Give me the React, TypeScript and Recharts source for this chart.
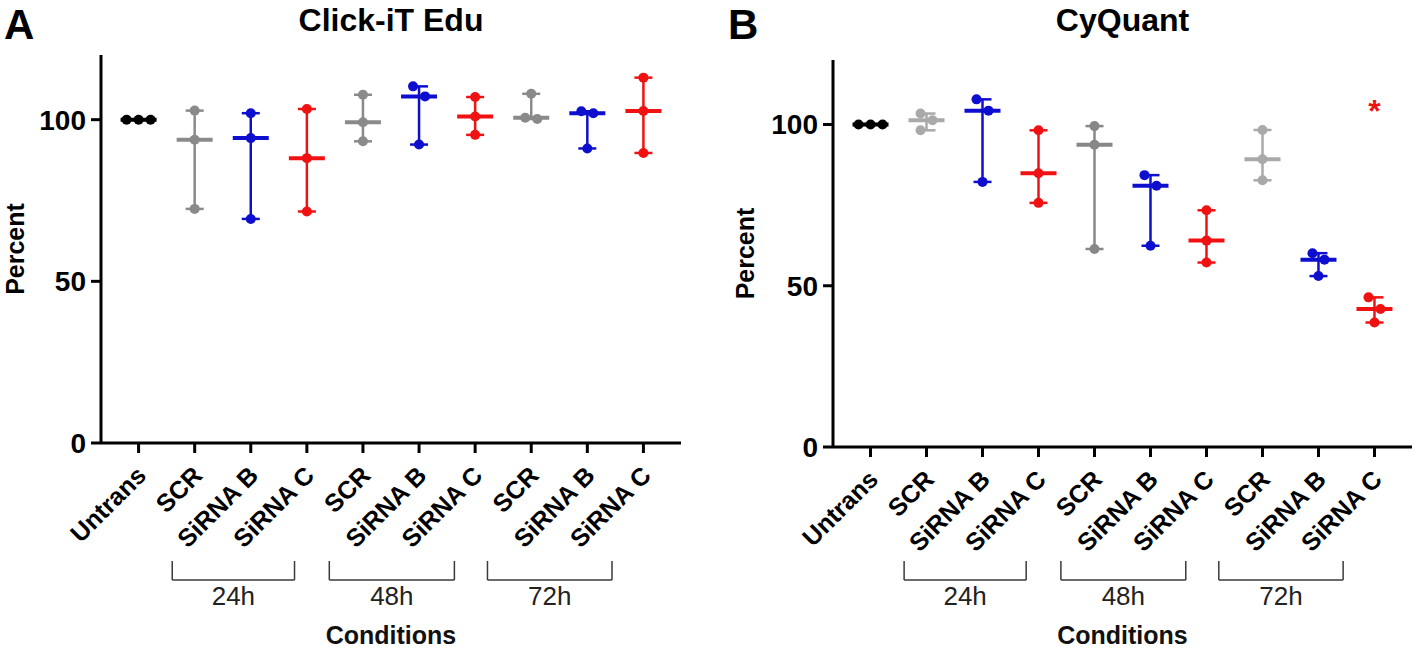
import React from "react";
import { ComposedChart, Scatter, ErrorBar, XAxis, YAxis, ReferenceLine } from "recharts";

const FONT = "'Liberation Sans', Arial, Helvetica, sans-serif";

const conditions = ["Untrans", "SCR", "SiRNA B", "SiRNA C", "SCR", "SiRNA B", "SiRNA C", "SCR", "SiRNA B", "SiRNA C"];
const xTicks = conditions.map((_, i) => i);
const yTicks = [0, 50, 100];

// Click-iT Edu, three replicates per condition (percent)
const eduUntrans = [100, 100, 100];
const eduScr24 = [102.8, 93.8, 72.4];
const eduB24 = [102, 94.3, 69.3];
const eduC24 = [103.3, 88.1, 71.6];
const eduScr48 = [107.7, 99.2, 93.3];
const eduB48 = [110.3, 107.2, 92.3];
const eduC48 = [107, 101, 95.3];
const eduScr72 = [108, 100.6, 100.2];
const eduB72 = [102.6, 102, 91.1];
const eduC72 = [113, 102.7, 89.7];

// CyQuant, three replicates per condition (percent)
const cyUntrans = [100, 100, 100];
const cyScr24 = [103.4, 101.3, 98.2];
const cyB24 = [107.8, 104.3, 82.2];
const cyC24 = [98.2, 84.9, 75.7];
const cyScr48 = [99.5, 93.7, 61.4];
const cyB48 = [84.3, 81, 62.4];
const cyC48 = [73.4, 64, 57.2];
const cyScr72 = [98.3, 89.2, 82.7];
const cyB72 = [60.1, 58.1, 53];
const cyC72 = [46.4, 42.8, 38.6];

// significance mark: condition index and height
const cySig = [{ x: 9, y: 106.5 }];

// time-point brackets under the labels (in condition-index units)
const brackets = [
  { label: "24h", from: 0.6, to: 2.78 },
  { label: "48h", from: 3.4, to: 5.63 },
  { label: "72h", from: 6.22, to: 8.44 },
];

const BLACK = "#000000";
const GRAY = "#8a8a8a";
const LIGHT = "#a9a9a9";
const BLUE = "#0e0ecf";
const RED = "#f01212";

const eduColors = [BLACK, GRAY, BLUE, RED, GRAY, BLUE, RED, GRAY, BLUE, RED];
const cyColors = [BLACK, LIGHT, BLUE, RED, "#878787", BLUE, RED, LIGHT, BLUE, RED];

const X_DOMAIN: [number, number] = [-0.67, 9.67];
const H = 654;

// horizontal jitter so overlapping dots sit side by side (slot units)
function swarm(vals: number[], pxY: number, gap: number) {
  const order = vals.map((_, i) => i).sort((a, b) => vals[b] - vals[a]);
  const slot = vals.map(() => 0);
  const placed: number[] = [];
  for (const i of order) {
    for (const k of [0, 1, -1, 2, -2]) {
      const ok = placed.every((j) => Math.abs(vals[j] - vals[i]) * pxY >= gap || slot[j] !== k);
      if (ok) {
        slot[i] = k;
        break;
      }
    }
    placed.push(i);
  }
  // center each cluster of touching dots
  const cluster = vals.map((_, i) => i);
  const find = (i: number): number => (cluster[i] === i ? i : find(cluster[i]));
  vals.forEach((a, i) =>
    vals.forEach((b, j) => {
      if (j > i && Math.abs(a - b) * pxY < gap) cluster[find(j)] = find(i);
    })
  );
  return vals.map((_, i) => {
    const mates = vals.map((_, j) => j).filter((j) => find(j) === find(i));
    const s = mates.map((j) => slot[j]);
    return slot[i] - (Math.max(...s) + Math.min(...s)) / 2;
  });
}

const median = (v: number[]) => [...v].sort((a, b) => a - b)[1];

const XTick = (props: any) => {
  const { x, y, payload } = props;
  const ax = x + 9;
  const ay = y + 22;
  return (
    <text
      x={ax}
      y={ay}
      transform={`rotate(-45 ${ax} ${ay})`}
      textAnchor="end"
      fontFamily={FONT}
      fontWeight={700}
      fontSize={25}
      fill="#000"
    >
      {conditions[payload.value]}
    </text>
  );
};

// rotated axis title; bx is where the text baseline sits
const YLabel = (props: any) => {
  const { viewBox, bx } = props;
  const cy = viewBox.y + viewBox.height / 2;
  return (
    <text
      x={bx}
      y={cy}
      transform={`rotate(-90 ${bx} ${cy})`}
      textAnchor="middle"
      fontFamily={FONT}
      fontWeight={700}
      fontSize={25}
      fill="#000"
    >
      Percent
    </text>
  );
};

type PanelProps = {
  letter: string;
  title: string;
  groups: number[][];
  colors: string[];
  sig?: { x: number; y: number }[];
  left: number;
  width: number;
  plotLeft: number;
  plotRight: number;
  plotTop: number;
  plotBottom: number;
  letterX: number;
  yLabelX: number;
};

function Panel(p: PanelProps) {
  const plotW = p.plotRight - p.plotLeft;
  const plotH = p.plotBottom - p.plotTop;
  const pxX = plotW / (X_DOMAIN[1] - X_DOMAIN[0]);
  const pxY = plotH / 120;
  const yAt = (absY: number) => (p.plotBottom - absY) / pxY;
  const yTop = yAt(561);
  const yBot = yAt(580);
  const lineStyle = { stroke: "#3a3a3a", strokeWidth: 1.5 };

  return (
    <div style={{ position: "absolute", left: p.left, top: 0, width: p.width, height: H }}>
      <svg width={p.width} height={H} style={{ position: "absolute", left: 0, top: 0 }}>
        <text x={p.letterX} y={39} fontFamily={FONT} fontWeight={700} fontSize={42} fill="#000">
          {p.letter}
        </text>
        <text
          x={p.plotLeft - p.left + plotW / 2}
          y={31}
          textAnchor="middle"
          fontFamily={FONT}
          fontWeight={700}
          fontSize={32}
          fill="#000"
        >
          {p.title}
        </text>
      </svg>
      <div style={{ position: "absolute", left: 0, top: 0 }}>
        <ComposedChart
          width={p.width}
          height={H}
          margin={{ top: p.plotTop, right: p.width - (p.plotRight - p.left), bottom: 0, left: 0 }}
        >
          <XAxis
            type="number"
            dataKey="x"
            domain={X_DOMAIN}
            allowDataOverflow
            ticks={xTicks}
            interval={0}
            tick={<XTick />}
            tickSize={10}
            tickMargin={2}
            tickLine={{ stroke: "#000", strokeWidth: 3 }}
            axisLine={{ stroke: "#000", strokeWidth: 3 }}
            height={H - p.plotBottom}
            label={{
              value: "Conditions",
              position: "insideBottom",
              offset: 10,
              fill: "#111",
              fontSize: 25,
              fontWeight: 700,
              fontFamily: FONT,
            }}
          />
          <YAxis
            type="number"
            dataKey="y"
            domain={[0, 120]}
            allowDataOverflow
            ticks={yTicks}
            interval={0}
            width={p.plotLeft - p.left}
            tickSize={10}
            tickMargin={5}
            tickLine={{ stroke: "#000", strokeWidth: 3 }}
            axisLine={{ stroke: "#000", strokeWidth: 3 }}
            tick={{ fill: "#000", fontSize: 28, fontWeight: 700, fontFamily: FONT }}
            label={<YLabel bx={p.yLabelX} />}
          />
          {brackets.map((b) => (
            <ReferenceLine
              key={b.label}
              segment={[
                { x: b.from, y: yBot },
                { x: b.to, y: yBot },
              ]}
              {...lineStyle}
              ifOverflow="visible"
              label={{ value: b.label, position: "bottom", offset: 7, fill: "#222", fontSize: 26, fontFamily: FONT }}
            />
          ))}
          {brackets.map((b) => (
            <ReferenceLine
              key={b.label + "l"}
              segment={[
                { x: b.from, y: yBot },
                { x: b.from, y: yTop },
              ]}
              {...lineStyle}
              ifOverflow="visible"
            />
          ))}
          {brackets.map((b) => (
            <ReferenceLine
              key={b.label + "r"}
              segment={[
                { x: b.to, y: yBot },
                { x: b.to, y: yTop },
              ]}
              {...lineStyle}
              ifOverflow="visible"
            />
          ))}
          {p.groups.map((vals, i) => {
            const m = median(vals);
            const c = p.colors[i];
            return (
              <Scatter
                key={"m" + i}
                data={[{ x: i, y: m, err: [m - Math.min(...vals), Math.max(...vals) - m] }]}
                isAnimationActive={false}
                shape={(s: any) => (
                  <line x1={s.cx - 18} x2={s.cx + 18} y1={s.cy} y2={s.cy} stroke={c} strokeWidth={4} />
                )}
              >
                <ErrorBar dataKey="err" direction="y" width={9} stroke={c} strokeWidth={2.5} isAnimationActive={false} />
              </Scatter>
            );
          })}
          {p.groups.map((vals, i) => {
            const off = swarm(vals, pxY, 12);
            const c = p.colors[i];
            return (
              <Scatter
                key={"p" + i}
                data={vals.map((v, k) => ({ x: i + (off[k] * 12) / pxX, y: v }))}
                isAnimationActive={false}
                shape={(s: any) => <circle cx={s.cx} cy={s.cy} r={5} fill={c} />}
              />
            );
          })}
          {p.sig && (
            <Scatter
              data={p.sig}
              isAnimationActive={false}
              shape={(s: any) => (
                <text x={s.cx} y={s.cy} dy="0.58em" textAnchor="middle" fontFamily={FONT} fontWeight={700} fontSize={32} fill={RED}>
                  *
                </text>
              )}
            />
          )}
        </ComposedChart>
      </div>
    </div>
  );
}

export default function App() {
  const edu = [eduUntrans, eduScr24, eduB24, eduC24, eduScr48, eduB48, eduC48, eduScr72, eduB72, eduC72];
  const cy = [cyUntrans, cyScr24, cyB24, cyC24, cyScr48, cyB48, cyC48, cyScr72, cyB72, cyC72];
  return (
    <div style={{ position: "absolute", left: 0, top: 0, width: 1418, height: H, background: "#fff", overflow: "hidden" }}>
      <Panel
        letter="A"
        title="Click-iT Edu"
        groups={edu}
        colors={eduColors}
        left={0}
        width={700}
        plotLeft={101}
        plotRight={681}
        plotTop={55}
        plotBottom={443}
        letterX={4}
        yLabelX={24}
      />
      <Panel
        letter="B"
        title="CyQuant"
        groups={cy}
        colors={cyColors}
        sig={cySig}
        left={709}
        width={709}
        plotLeft={833}
        plotRight={1412}
        plotTop={60}
        plotBottom={447}
        letterX={19}
        yLabelX={45}
      />
    </div>
  );
}
